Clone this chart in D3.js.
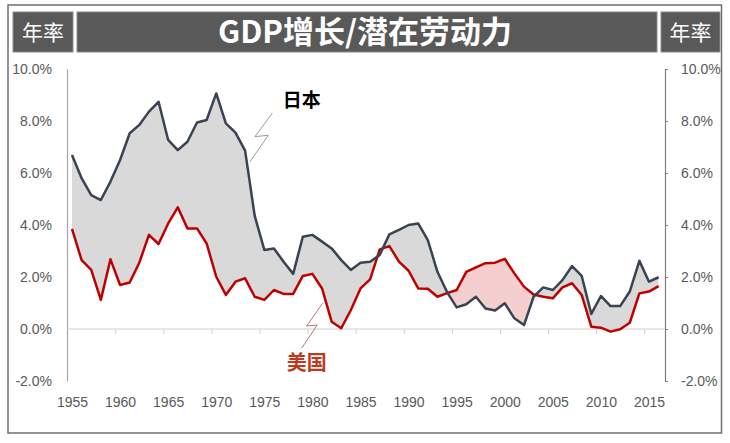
<!DOCTYPE html>
<html><head><meta charset="utf-8">
<script src="https://cdn.jsdelivr.net/npm/d3@7"></script>
<style>
body{margin:0;background:#fff;}
svg{display:block;}
</style></head>
<body>
<svg id="chart" width="730" height="443"></svg>
<script>
const years = [1955,1956,1957,1958,1959,1960,1961,1962,1963,1964,1965,1966,1967,1968,1969,1970,1971,1972,1973,1974,1975,1976,1977,1978,1979,1980,1981,1982,1983,1984,1985,1986,1987,1988,1989,1990,1991,1992,1993,1994,1995,1996,1997,1998,1999,2000,2001,2002,2003,2004,2005,2006,2007,2008,2009,2010,2011,2012,2013,2014,2015,2016];
const japan = [6.69,5.8,5.15,4.96,5.67,6.5,7.53,7.85,8.36,8.74,
  7.27,6.88,7.2,7.94,8.04,9.06,7.91,7.55,6.86,4.35,
  3.04,3.1,2.59,2.12,3.55,3.62,3.36,3.1,2.65,2.27,
  2.55,2.59,2.85,3.64,3.81,4.0,4.06,3.42,2.2,1.42,
  0.83,0.95,1.24,0.79,0.71,0.99,0.41,0.15,1.24,1.6,
  1.5,1.88,2.42,2.04,0.58,1.27,0.88,0.88,1.44,2.62,
  1.82,1.99];
const usa = [3.85,2.65,2.27,1.12,2.68,1.69,1.79,2.55,3.62,3.27,
  4.06,4.68,3.87,3.87,3.29,2.01,1.31,1.82,1.95,1.24,
  1.12,1.5,1.35,1.35,2.04,2.12,1.56,0.28,0.03,0.73,
  1.56,1.91,3.06,3.19,2.59,2.24,1.56,1.55,1.24,1.38,
  1.5,2.2,2.37,2.53,2.55,2.7,2.14,1.63,1.33,1.24,
  1.18,1.6,1.76,1.31,0.09,0.05,-0.1,-0.01,0.24,1.37,
  1.44,1.65];
const yTicks = [-2,0,2,4,6,8,10];
const xTickLabels = [1955,1960,1965,1970,1975,1980,1985,1990,1995,2000,2005,2010,2015];
const titleText = "GDP增长/潜在劳动力";
const unitText = "年率";
const japanLabel = "日本";
const usaLabel = "美国";

const svg = d3.select("#chart");
const x = d3.scaleLinear().domain([1955, 2015]).range([72, 649]);
const y = d3.scaleLinear().domain([-2, 10]).range([381, 69]);
const axisFont = "'Liberation Sans', Arial, sans-serif";
const cjkFont = "'Noto Sans CJK SC', 'Noto Sans', sans-serif";

const rows = years.map((yr, i) => ({yr, j: japan[i], u: usa[i]}));

// outer frame
svg.append("rect").attr("x", 8).attr("y", 5).attr("width", 713.5).attr("height", 428)
  .attr("fill", "none").attr("stroke", "#6f6f6f").attr("stroke-width", 1.5);

// header boxes
const hdr = svg.append("g");
[[13, 60], [77, 580], [661, 59]].forEach(([bx, bw]) => {
  hdr.append("rect").attr("x", bx).attr("y", 12).attr("width", bw).attr("height", 40)
    .attr("fill", "#595959").attr("stroke", "#8a8a8a").attr("stroke-width", 1);
});
hdr.append("text").attr("x", 43).attr("y", 40).attr("text-anchor", "middle")
  .attr("font-family", cjkFont).attr("font-size", 21).attr("fill", "#fff").text(unitText);
hdr.append("text").attr("x", 690.5).attr("y", 40).attr("text-anchor", "middle")
  .attr("font-family", cjkFont).attr("font-size", 21).attr("fill", "#fff").text(unitText);
hdr.append("text").attr("x", 365).attr("y", 43).attr("text-anchor", "middle")
  .attr("font-family", cjkFont).attr("font-weight", "bold").attr("font-size", 31).attr("fill", "#fff").text(titleText);

// clip paths
const defs = svg.append("defs");
defs.append("clipPath").attr("id", "aboveJ").append("path")
  .attr("d", d3.area().x(d => x(d.yr)).y0(0).y1(d => y(d.j))(rows));
defs.append("clipPath").attr("id", "belowJ").append("path")
  .attr("d", d3.area().x(d => x(d.yr)).y0(d => y(d.j)).y1(443)(rows));

const between = d3.area().x(d => x(d.yr)).y0(d => y(d.u)).y1(d => y(d.j));
svg.append("path").attr("d", between(rows)).attr("fill", "#d9d9d9").attr("clip-path", "url(#belowJ)");
svg.append("path").attr("d", between(rows)).attr("fill", "#f5cfcf").attr("clip-path", "url(#aboveJ)");

// left axis
const gl = svg.append("g").attr("transform", "translate(67,0)")
  .call(d3.axisLeft(y).tickValues(yTicks).tickFormat(d => d.toFixed(1) + "%").tickSize(0).tickPadding(15));
gl.select(".domain").attr("stroke", "#a6a6a6").attr("stroke-width", 1.2);
gl.selectAll("text").attr("font-family", axisFont).attr("font-size", 14).attr("fill", "#595959");

// right axis
const gr = svg.append("g").attr("transform", "translate(665,0)")
  .call(d3.axisRight(y).tickValues(yTicks).tickFormat(d => d.toFixed(1) + "%").tickSize(3).tickPadding(13));
gr.select(".domain").attr("stroke", "#7f7f7f").attr("stroke-width", 1.2);
gr.selectAll("line").attr("stroke", "#7f7f7f");
gr.selectAll("text").attr("font-family", axisFont).attr("font-size", 14).attr("fill", "#595959");

// zero line with category tick marks
svg.append("line").attr("x1", 67).attr("x2", 665).attr("y1", y(0)).attr("y2", y(0))
  .attr("stroke", "#d0d0d0").attr("stroke-width", 1.2);
const gz = svg.append("g").attr("transform", `translate(0,${y(0)})`)
  .call(d3.axisBottom(x).tickValues(xTickLabels.map(v => v + 4.5)).tickFormat("").tickSize(5).tickSizeOuter(0));
gz.select(".domain").remove();
gz.selectAll("line").attr("stroke", "#d0d0d0");

// bottom labels
const gb = svg.append("g").attr("transform", "translate(0,397)")
  .call(d3.axisBottom(x).tickValues(xTickLabels).tickFormat(d3.format("d")).tickSize(0).tickPadding(0));
gb.select(".domain").remove();
gb.selectAll("text").attr("font-family", axisFont).attr("font-size", 14).attr("fill", "#595959");

// lines
const lineJ = d3.line().x(d => x(d.yr)).y(d => y(d.j));
const lineU = d3.line().x(d => x(d.yr)).y(d => y(d.u));
svg.append("path").attr("d", lineU(rows)).attr("fill", "none").attr("stroke", "#c00000")
  .attr("stroke-width", 2.5).attr("stroke-linejoin", "round");
svg.append("path").attr("d", lineJ(rows)).attr("fill", "none").attr("stroke", "#3a4352")
  .attr("stroke-width", 2.5).attr("stroke-linejoin", "round");

// annotations
const zz = d3.line().x(d => x(d[0])).y(d => y(d[1]));
svg.append("path").attr("d", zz([[1975.83, 8.3], [1974.03, 7.4], [1975.41, 7.45], [1973.5, 6.43]]))
  .attr("fill", "none").attr("stroke", "#9a9a9a").attr("stroke-width", 1);
svg.append("text").attr("x", x(1978.9)).attr("y", y(8.52)).attr("text-anchor", "middle")
  .attr("font-family", cjkFont).attr("font-weight", "bold").attr("font-size", 19).attr("fill", "#000").text(japanLabel);
svg.append("path").attr("d", zz([[1981.06, 0.99], [1979.4, 0.115], [1980.5, 0.15], [1978.88, -0.74]]))
  .attr("fill", "none").attr("stroke", "#b07878").attr("stroke-width", 1);
svg.append("text").attr("x", x(1979.4)).attr("y", y(-1.58)).attr("text-anchor", "middle")
  .attr("font-family", cjkFont).attr("font-weight", "bold").attr("font-size", 20).attr("fill", "#c0391f").text(usaLabel);
</script>
</body></html>
